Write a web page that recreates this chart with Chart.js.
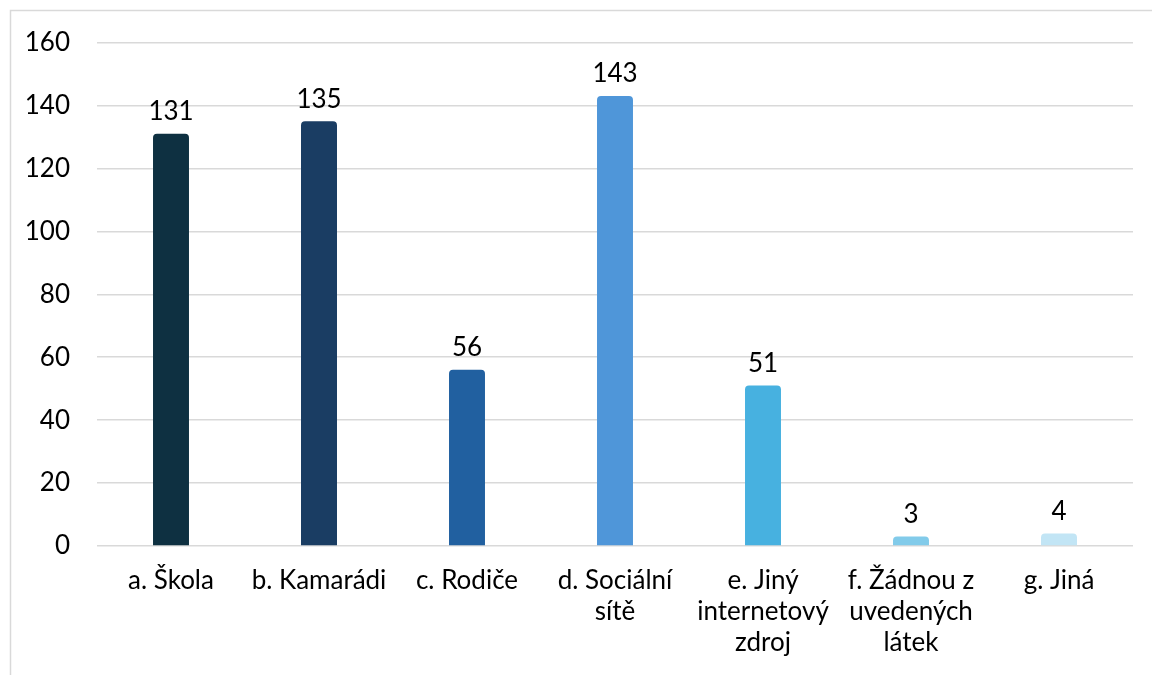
<!DOCTYPE html>
<html>
<head>
<meta charset="utf-8">
<script src="https://cdn.jsdelivr.net/npm/chart.js@4"></script>
<style>
    body { margin: 0; background: #fff; }
    #wrap { position: relative; width: 1152px; height: 675px; }
</style>
</head>
<body>
<div id="wrap"><canvas id="chart" width="1152" height="675"></canvas></div>
<script>
// Dados do grafico
const categorias = [
    'a. Škola',
    'b. Kamarádi',
    'c. Rodiče',
    ['d. Sociální', 'sítě'],
    ['e. Jiný', 'internetový', 'zdroj'],
    ['f. Žádnou z', 'uvedených', 'látek'],
    'g. Jiná'
];
const valores = [131, 135, 56, 143, 51, 3, 4];
const cores = ['#0E3041', '#1A3D63', '#2160A0', '#4F96D9', '#47B1E0', '#82CBEA', '#C2E5F5'];
const yTicks = [0, 20, 40, 60, 80, 100, 120, 140, 160];

const fonte = 'Lato, "Open Sans", sans-serif';

// Moldura cinza em volta do grafico
const moldura = {
    id: 'moldura',
    beforeDraw(chart) {
        const ctx = chart.ctx;
        ctx.save();
        ctx.strokeStyle = '#d9d9d9';
        ctx.lineWidth = 1.5;
        ctx.strokeRect(10.5, 10.5, 1300, 800);
        ctx.restore();
    }
};

// Rotulos de valor em cima das barras
const rotulos = {
    id: 'rotulos',
    afterDatasetsDraw(chart) {
        const ctx = chart.ctx;
        const meta = chart.getDatasetMeta(0);
        ctx.save();
        ctx.font = '26px ' + fonte;
        ctx.fillStyle = '#000';
        ctx.textAlign = 'center';
        ctx.textBaseline = 'middle';
        meta.data.forEach((bar, i) => {
            ctx.fillText(String(valores[i]), bar.x, bar.y - 22);
        });
        ctx.restore();
    }
};

const ctx = document.getElementById('chart').getContext('2d');
const chart = new Chart(ctx, {
    type: 'bar',
    data: {
        labels: categorias,
        datasets: [{
            data: valores,
            backgroundColor: cores,
            borderRadius: { topLeft: 4, topRight: 4 },
            borderSkipped: 'bottom',
            barPercentage: 0.243,
            categoryPercentage: 1
        }]
    },
    options: {
        responsive: false,
        animation: false,
        layout: { padding: { top: 41, right: 19, left: 0, bottom: 0 } },
        plugins: {
            legend: { display: false },
            tooltip: { enabled: false }
        },
        scales: {
            x: {
                grid: { display: false, drawTicks: false },
                border: { display: false },
                ticks: {
                    color: '#000',
                    padding: 19,
                    maxRotation: 0,
                    autoSkip: false,
                    font: { family: fonte, size: 26, lineHeight: 1.2 }
                },
                afterFit(scale) { scale.height = 129; }
            },
            y: {
                min: 0,
                max: 160,
                grid: { color: '#d9d9d9', lineWidth: 1.5, drawTicks: false },
                border: { display: false },
                afterBuildTicks(scale) { scale.ticks = yTicks.map(v => ({ value: v })); },
                ticks: {
                    color: '#000',
                    padding: 27,
                    font: { family: fonte, size: 26 }
                },
                afterFit(scale) { scale.width = 97; }
            }
        }
    },
    plugins: [moldura, rotulos]
});
</script>
</body>
</html>
